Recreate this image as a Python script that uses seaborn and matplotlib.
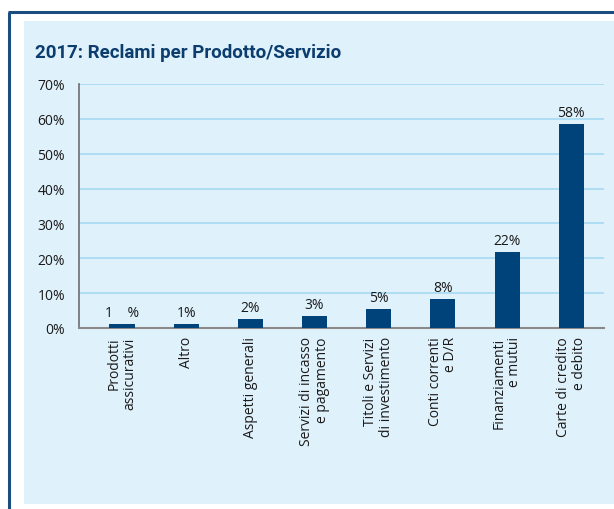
import matplotlib
matplotlib.use("Agg")
import matplotlib.pyplot as plt
import seaborn as sns
import pandas as pd
from matplotlib.patches import Rectangle
from matplotlib.lines import Line2D

categories = ["Prodotti\nassicurativi", "Altro", "Aspetti generali",
              "Servizi di incasso\ne pagamento", "Titoli e Servizi\ndi investimento",
              "Conti correnti\ne D/R", "Finanziamenti\ne mutui", "Carte di credito\ne debito"]
values = [1.1, 1.1, 2.5, 3.4, 5.5, 8.4, 21.8, 58.4]
value_labels = ["1    %", "1%", "2%", "3%", "5%", "8%", "22%", "58%"]
y_ticks = [0, 10, 20, 30, 40, 50, 60, 70]
y_tick_labels = ["0%", "10%", "20%", "30%", "40%", "50%", "60%", "70%"]
title = "2017: Reclami per Prodotto/Servizio"

sns.set_style("white")
plt.rcParams["font.family"] = ["Open Sans", "DejaVu Sans"]

W, H = 614, 510
fig = plt.figure(figsize=(W / 100, H / 100), dpi=100)
fig.patch.set_facecolor("white")

panel_color = "#dff1fb"
navy = "#00437a"
fig.patches.append(Rectangle((24 / W, 1 - 505 / H), 1 - 24 / W, (505 - 22) / H,
                             transform=fig.transFigure, facecolor=panel_color,
                             edgecolor="none", zorder=-10))
fig.lines.append(Line2D([9 / W, 9 / W], [0, 1 - 13 / H], transform=fig.transFigure,
                        color="#1b4d80", linewidth=2.2, solid_capstyle="butt", zorder=-5))
fig.lines.append(Line2D([8 / W, 1], [1 - 13 / H, 1 - 13 / H], transform=fig.transFigure,
                        color="#1b4d80", linewidth=2.2, solid_capstyle="butt", zorder=-5))

ax = fig.add_axes([79 / W, 1 - 329 / H, (604 - 79) / W, (329 - 85) / H])
ax.set_facecolor("none")
ax.set_zorder(5)

df = pd.DataFrame({"cat": categories, "val": values})
sns.barplot(data=df, x="cat", y="val", color=navy, saturation=1, width=0.39, ax=ax,
            zorder=3, linewidth=0, edgecolor="none")

for i, (v, lab) in enumerate(zip(values, value_labels)):
    ax.annotate(lab, (i, v), xytext=(0, 3), textcoords="offset points",
                ha="center", va="bottom", fontsize=10, color="#1a1a1a")

ax.set_xlim(-0.67, 7.51)
ax.set_ylim(0, 70)
ax.set_yticks(y_ticks)
ax.set_yticklabels(y_tick_labels, fontsize=10, color="#1a1a1a")
ax.set_xticks(range(len(categories)))
ax.set_xticklabels(categories, rotation=90, fontsize=10, color="#1a1a1a",
                   ha="center", va="top", multialignment="right", linespacing=1.05)
ax.set_xlabel("")
ax.set_ylabel("")
ax.tick_params(axis="both", length=0)
ax.tick_params(axis="x", pad=6)
ax.tick_params(axis="y", pad=10)

ax.yaxis.grid(True, color="#a6dbf3", linewidth=1.2, zorder=0)
ax.set_axisbelow(True)
for s in ["top", "right"]:
    ax.spines[s].set_visible(False)
ax.spines["left"].set_color("#6e6e6e")
ax.spines["left"].set_linewidth(1.2)
ax.spines["bottom"].set_color("#8a8a8a")
ax.spines["bottom"].set_linewidth(1.5)

fig.text(35 / W, 1 - 58 / H, title, fontsize=13.5, fontweight="bold", color="#0b3d6e",
         ha="left", va="baseline", family=["Roboto", "DejaVu Sans"])

fig.savefig("out.png", dpi=100)
